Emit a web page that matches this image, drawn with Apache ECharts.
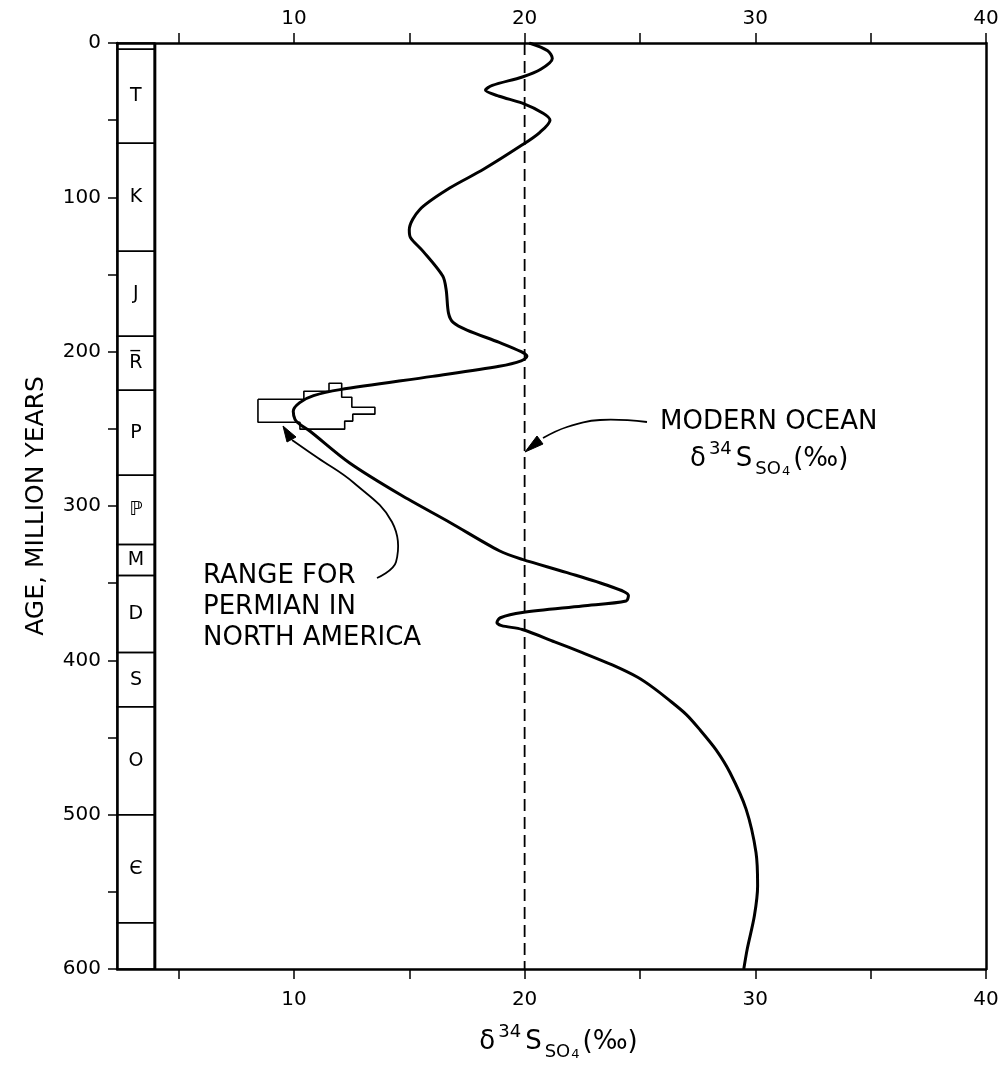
<!DOCTYPE html>
<html><head><meta charset="utf-8">
<script src="https://cdn.jsdelivr.net/npm/echarts@6/dist/echarts.min.js"></script>
<style>html,body{margin:0;padding:0;background:#fff}#c{width:1006px;height:1066px}</style>
</head><body><div id="c"></div>
<script>
// ---- data ----
const curveAge = [0, 5, 10, 17, 22, 27.5, 30.5, 34.5, 39, 45.5, 50, 58, 66, 82, 94, 108, 121, 126, 135, 151, 160, 175, 181, 186, 194, 200, 203, 206, 209.5, 216, 224.6, 228.5, 233, 238.6, 244, 247, 251.6, 272, 292.6, 311, 329, 334.6, 343, 352, 358, 361.6, 364.8, 369, 372.4, 375.5, 377.5, 380, 388, 395, 403, 411, 418, 425, 435, 445, 458, 472.7, 496.4, 524.5, 546, 565.5, 587, 600];
const curveD34S = [20.2, 21.0, 21.2, 20.7, 19.9, 18.6, 18.3, 18.9, 19.9, 20.8, 21.1, 20.65, 19.9, 18.2, 16.75, 15.45, 15.0, 15.05, 15.6, 16.45, 16.6, 16.7, 16.9, 17.5, 18.9, 19.85, 20.1, 19.85, 18.9, 16.0, 12.0, 10.85, 10.25, 9.97, 10.05, 10.25, 10.7, 12.4, 14.6, 16.8, 18.9, 19.9, 21.8, 23.7, 24.5, 24.4, 22.5, 19.9, 18.95, 18.8, 19.0, 19.9, 21.3, 22.5, 23.8, 24.9, 25.6, 26.2, 27.0, 27.6, 28.3, 28.9, 29.6, 30.03, 30.1, 29.96, 29.65, 29.5];

const permianRangeD34S = [8.44, 10.43, 10.43, 11.52, 11.52, 12.07, 12.07, 12.51, 12.51, 13.51, 13.51, 12.55, 12.55, 12.2, 12.2, 10.26, 10.26, 8.44, 8.44];
const permianRangeAge = [230.8, 230.8, 225.6, 225.6, 220.5, 220.5, 229.5, 229.5, 236, 236, 240.5, 240.5, 245, 245, 250.2, 250.2, 245.7, 245.7, 230.8];

const modernOcean = 20;

const periodNames = ['', 'T', 'K', 'J', 'R\u0305', 'P', '\u2119', 'M', 'D', 'S', 'O', '\u0404', ''];
const periodBounds = [0, 4, 65, 135, 190, 225, 280, 325, 345, 395, 430, 500, 570, 600];

const xTickValues = [5, 10, 15, 20, 25, 30, 35, 40];
const xLabelValues = [10, 20, 30, 40];
const yTickValues = [0, 50, 100, 150, 200, 250, 300, 350, 400, 450, 500, 550, 600];
const yLabelValues = [0, 100, 200, 300, 400, 500, 600];

// ---- build ----
const X_MIN = 2.33, X_MAX = 40, COL_RIGHT = 3.97;
const FONT = '"DejaVu Sans", sans-serif';
const curve = curveAge.map((a, i) => [curveD34S[i], a]);
const permian = permianRangeAge.map((a, i) => [permianRangeD34S[i], a]);
const periods = periodNames.map((n, i) => [periodBounds[i], periodBounds[i + 1]]);

const chart = echarts.init(document.getElementById('c'), null, {renderer: 'canvas'});

const nameRich = {
  a: {fontSize: 26, fontFamily: FONT, color: '#000', lineHeight: 38},
  sup: {fontSize: 18, fontFamily: FONT, color: '#000', verticalAlign: 'top', lineHeight: 18, padding: [0, 4, 0, 3]},
  sub: {fontSize: 18, fontFamily: FONT, color: '#000', verticalAlign: 'bottom', lineHeight: 18, padding: [0, 0, 0, 3]},
  sub2: {fontSize: 13, fontFamily: FONT, color: '#000', verticalAlign: 'bottom', lineHeight: 13, padding: [0, 3, 0, 1]}
};
const deltaLabel = '{a|δ}{sup|34}{a|S}{sub|SO}{sub2|4}{a|(‰)}';

function xAxisDef(pos, margin) {
  return {
    type: 'value', position: pos, min: X_MIN, max: X_MAX,
    axisLine: {show: true, onZero: false, lineStyle: {color: '#000', width: 2.5}},
    axisTick: {show: true, customValues: xTickValues, length: 10, lineStyle: {color: '#000', width: 1.5}},
    axisLabel: {customValues: xLabelValues, fontSize: 20, fontFamily: FONT, color: '#000', margin: margin},
    splitLine: {show: false}
  };
}
const xBottom = xAxisDef('bottom', 21);
xBottom.name = deltaLabel;
xBottom.nameLocation = 'middle';
xBottom.nameGap = 54;
xBottom.nameTextStyle = {rich: nameRich, padding: [0, 0, 0, 14]};
const xTop = xAxisDef('top', 14);

const option = {
  animation: false,
  backgroundColor: '#fff',
  grid: {left: 117, right: 20, top: 43, bottom: 95, containLabel: false},
  xAxis: [xBottom, xTop],
  yAxis: [{
    type: 'value', inverse: true, min: 0, max: 600, position: 'left',
    axisLine: {show: true, onZero: false, lineStyle: {color: '#000', width: 2.5}},
    axisTick: {show: true, customValues: yTickValues, length: 9, lineStyle: {color: '#000', width: 1.5}},
    axisLabel: {customValues: yLabelValues, fontSize: 20, fontFamily: FONT, color: '#000', margin: 16},
    splitLine: {show: false},
    name: 'AGE, MILLION YEARS', nameLocation: 'middle', nameGap: 68, nameRotate: 90,
    nameTextStyle: {fontSize: 25, fontFamily: FONT, color: '#000'}
  }, {
    type: 'value', inverse: true, min: 0, max: 600, position: 'right',
    axisLine: {show: true, onZero: false, lineStyle: {color: '#000', width: 2.5}},
    axisTick: {show: false}, axisLabel: {show: false}, splitLine: {show: false}
  }],
  series: [
    {
      type: 'custom', xAxisIndex: 0, yAxisIndex: 0, clip: false, silent: true,
      data: periods,
      encode: {y: [0, 1]},
      renderItem: function (params, api) {
        const top = api.value(0), bot = api.value(1);
        const p1 = api.coord([X_MIN, top]);
        const p2 = api.coord([COL_RIGHT, bot]);
        return {
          type: 'group', children: [
            {type: 'rect', shape: {x: p1[0], y: p1[1], width: p2[0] - p1[0], height: p2[1] - p1[1]},
             style: {fill: 'none', stroke: '#000', lineWidth: 1.5}},
            {type: 'text', style: {text: periodNames[params.dataIndex], x: (p1[0] + p2[0]) / 2, y: (p1[1] + p2[1]) / 2,
             align: 'center', verticalAlign: 'middle', font: '19px ' + FONT, fill: '#000'}}
          ]
        };
      }
    },
    {
      type: 'line', data: [[COL_RIGHT, 0], [COL_RIGHT, 600]], symbol: 'none', silent: true,
      lineStyle: {color: '#000', width: 3}
    },
    {
      type: 'line', data: [[modernOcean, 0], [modernOcean, 600]], symbol: 'none', silent: true,
      lineStyle: {color: '#000', width: 1.8, type: [12, 6]}
    },
    {
      type: 'line', data: permian, symbol: 'none', silent: true,
      lineStyle: {color: '#000', width: 1.6}
    },
    {
      type: 'line', data: curve, symbol: 'none', smooth: 0.3, silent: true,
      lineStyle: {color: '#000', width: 3}
    }
  ],
  graphic: [
    {type: 'text', silent: true, style: {x: 660, y: 422, text: 'MODERN OCEAN', font: '26px ' + FONT, fill: '#000', verticalAlign: 'middle'}},
    {type: 'text', silent: true, style: {x: 690, y: 459, text: deltaLabel, rich: nameRich, verticalAlign: 'middle'}},
    {type: 'text', silent: true, style: {x: 203, y: 561, text: 'RANGE FOR\nPERMIAN IN\nNORTH AMERICA', font: '26px ' + FONT, fill: '#000', lineHeight: 31, verticalAlign: 'top'}},
    {type: 'polyline', silent: true, shape: {points: [[647, 422], [600, 420], [567, 427], [543, 438]], smooth: 0.4},
     style: {stroke: '#000', lineWidth: 1.8, fill: null}},
    {type: 'polygon', silent: true, shape: {points: [[525, 452], [543, 444], [537, 436]]}, style: {fill: '#000', stroke: '#000', lineWidth: 1}},
    {type: 'polyline', silent: true, shape: {points: [[377, 578], [396, 562], [392, 522], [354, 483], [318, 458], [292, 440]], smooth: 0.4},
     style: {stroke: '#000', lineWidth: 1.8, fill: null}},
    {type: 'polygon', silent: true, shape: {points: [[283, 426], [296, 437], [287, 442]]}, style: {fill: '#000', stroke: '#000', lineWidth: 1}}
  ]
};
chart.setOption(option);
</script>
</body></html>
